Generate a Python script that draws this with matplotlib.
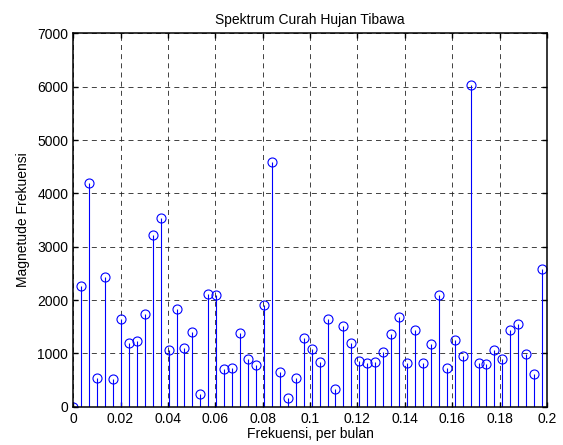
import numpy as np
import matplotlib
matplotlib.use('Agg')
from matplotlib import pyplot as plt

plt.rcParams['font.family'] = ['Liberation Sans', 'DejaVu Sans']

# magnitude spektrum (60 titik, langkah 1/298 per bulan)
magnitude = [0, 2262, 4194, 531, 2437, 519, 1637, 1187, 1231, 1744,
             3212, 3537, 1062, 1825, 1106, 1394, 231, 2106, 2087, 700,
             719, 1375, 887, 781, 1906, 4587, 656, 169, 531, 1294,
             1087, 844, 1644, 337, 1519, 1194, 862, 812, 837, 1031,
             1356, 1687, 825, 1437, 825, 1175, 2087, 719, 1250, 950,
             6037, 825, 800, 1062, 887, 1437, 1544, 987, 606, 2587]
frekuensi = np.arange(len(magnitude)) / 298.0

xticks = [0, 0.02, 0.04, 0.06, 0.08, 0.1, 0.12, 0.14, 0.16, 0.18, 0.2]
xlabels = ['0', '0.02', '0.04', '0.06', '0.08', '0.1', '0.12', '0.14', '0.16', '0.18', '0.2']
yticks = [0, 1000, 2000, 3000, 4000, 5000, 6000, 7000]

fig = plt.figure(figsize=(5.63, 4.45), dpi=100)
ax = fig.add_axes([0.130, 0.086, 0.8414, 0.839])

ml, sl, bl = ax.stem(frekuensi, magnitude, basefmt=' ')
plt.setp(sl, color='#0000ff', linewidth=0.8)
plt.setp(ml, marker='o', markersize=6.5, markerfacecolor='none',
         markeredgecolor='#0000ff', markeredgewidth=0.8)

ax.set_xlim(0, 0.2)
ax.set_ylim(0, 7000)
ax.set_xticks(xticks)
ax.set_xticklabels(xlabels)
ax.set_yticks(yticks)
ax.grid(True, color='#222222', linestyle=(0, (6, 5)), linewidth=0.6)
ax.tick_params(direction='in', top=True, right=True, labelsize=10, length=3.5,
               width=1, pad=3.5)
for s in ax.spines.values():
    s.set_linewidth(1.1)

ax.set_title('Spektrum Curah Hujan Tibawa', fontsize=10, pad=7)
ax.set_xlabel('Frekuensi, per bulan', fontsize=10, labelpad=1)
ax.set_ylabel('Magnetude Frekuensi', fontsize=10, labelpad=5)

fig.savefig('out.png', dpi=100)
